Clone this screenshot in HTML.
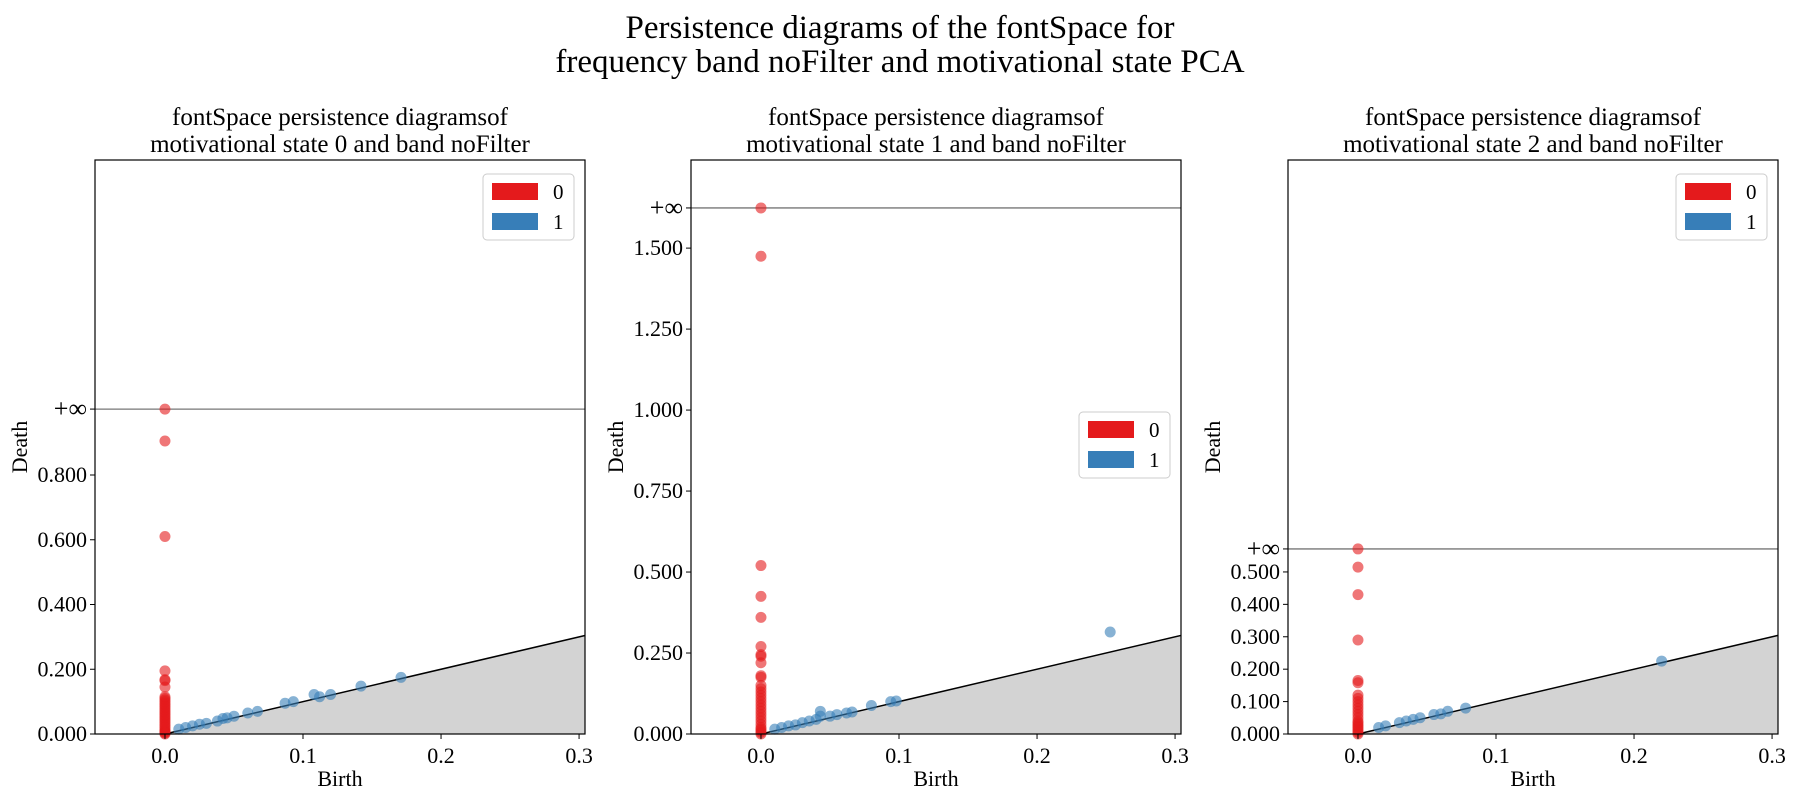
<!DOCTYPE html>
<html><head><meta charset="utf-8"><style>
body{margin:0;background:#fff;width:1800px;height:800px;overflow:hidden}
svg{font-family:"Liberation Serif",serif}
</style></head><body>
<svg id="fig" width="1800" height="800" viewBox="0 0 1800 800">
<text x="900" y="38" font-size="33" text-anchor="middle">Persistence diagrams of the fontSpace for</text>
<text x="900" y="72" font-size="33" text-anchor="middle">frequency band noFilter and motivational state PCA</text>
</svg>
<script>
// Panel 0 data
const p0Red = [1.0036, 0.905, 0.61, 0.195, 0.168, 0.165, 0.145, 0.115, 0.11, 0.105, 0.1, 0.095, 0.09, 0.085, 0.08, 0.075, 0.07, 0.065, 0.06, 0.055, 0.05, 0.045, 0.04, 0.035, 0.03, 0.025, 0.02, 0.015, 0.01, 0.008, 0.005, 0.003, 0.0];
const p0BlueBirth = [0.01, 0.015, 0.02, 0.025, 0.03, 0.038, 0.042, 0.045, 0.05, 0.06, 0.067, 0.087, 0.093, 0.108, 0.112, 0.12, 0.142, 0.171];
const p0BlueDeath = [0.015, 0.02, 0.025, 0.03, 0.033, 0.04, 0.048, 0.05, 0.055, 0.065, 0.07, 0.095, 0.1, 0.122, 0.115, 0.122, 0.148, 0.175];
const p0YTicks = [0, 0.2, 0.4, 0.6, 0.8];
const p0YTickLabels = ["0.000", "0.200", "0.400", "0.600", "0.800"];
// Panel 1 data
const p1Red = [1.624, 1.475, 0.52, 0.425, 0.36, 0.27, 0.245, 0.24, 0.22, 0.18, 0.175, 0.15, 0.14, 0.13, 0.12, 0.11, 0.1, 0.09, 0.08, 0.07, 0.06, 0.05, 0.04, 0.03, 0.02, 0.015, 0.01, 0.005, 0.0];
const p1BlueBirth = [0.01, 0.015, 0.02, 0.025, 0.03, 0.035, 0.04, 0.043, 0.043, 0.05, 0.055, 0.062, 0.066, 0.08, 0.094, 0.098, 0.253];
const p1BlueDeath = [0.015, 0.02, 0.025, 0.028, 0.035, 0.04, 0.045, 0.07, 0.055, 0.055, 0.06, 0.065, 0.068, 0.088, 0.1, 0.102, 0.315];
const p1YTicks = [0, 0.25, 0.5, 0.75, 1.0, 1.25, 1.5];
const p1YTickLabels = ["0.000", "0.250", "0.500", "0.750", "1.000", "1.250", "1.500"];
// Panel 2 data
const p2Red = [0.571, 0.515, 0.43, 0.29, 0.165, 0.158, 0.12, 0.11, 0.1, 0.09, 0.08, 0.07, 0.06, 0.05, 0.04, 0.035, 0.03, 0.025, 0.02, 0.015, 0.01, 0.005, 0.0];
const p2BlueBirth = [0.015, 0.02, 0.03, 0.035, 0.04, 0.045, 0.055, 0.06, 0.065, 0.078, 0.22];
const p2BlueDeath = [0.02, 0.025, 0.035, 0.04, 0.045, 0.05, 0.06, 0.062, 0.07, 0.08, 0.225];
const p2YTicks = [0, 0.1, 0.2, 0.3, 0.4, 0.5];
const p2YTickLabels = ["0.000", "0.100", "0.200", "0.300", "0.400", "0.500"];
const xTicks = [0, 0.1, 0.2, 0.3];
const xTickLabels = ["0.0", "0.1", "0.2", "0.3"];

const NS = "http://www.w3.org/2000/svg";
const fig = document.getElementById('fig');
function mk(tag, attrs, parent){const e=document.createElementNS(NS,tag);for(const k in attrs)e.setAttribute(k,attrs[k]);(parent||fig).appendChild(e);return e;}

const panels = [
 {L:95,R:585,T:160,B:734,ymax:1.773,inf:1.0036,red:p0Red,bb:p0BlueBirth,bd:p0BlueDeath,yt:p0YTicks,ytl:p0YTickLabels,leg:[483,174],state:0},
 {L:691,R:1181,T:160,B:734,ymax:1.772,inf:1.624,red:p1Red,bb:p1BlueBirth,bd:p1BlueDeath,yt:p1YTicks,ytl:p1YTickLabels,leg:[1079,412],state:1},
 {L:1288,R:1778,T:160,B:734,ymax:1.771,inf:0.571,red:p2Red,bb:p2BlueBirth,bd:p2BlueDeath,yt:p2YTicks,ytl:p2YTickLabels,leg:[1676,174],state:2}
];
const xmin=-0.0507, xmax=0.3043;
panels.forEach((p,i)=>{
  const g=mk('g',{});
  
  
  const X=v=>p.L+(v-xmin)/(xmax-xmin)*(p.R-p.L);
  const Y=v=>p.B-v/p.ymax*(p.B-p.T);
  const cx=(p.L+p.R)/2;
  let t=mk('text',{x:cx,y:125,'font-size':25,'text-anchor':'middle'},g);t.textContent='fontSpace persistence diagramsof';
  
  t=mk('text',{x:cx,y:152,'font-size':25,'text-anchor':'middle'},g);t.textContent='motivational state '+p.state+' and band noFilter';
  
  const x0=Math.max(0,xmin), x1=xmax;
  const poly=mk('polygon',{points:`${X(x0)},${Y(0)} ${X(x1)},${Y(0)} ${X(x1)},${Y(x1)}`,fill:'#d3d3d3'},g);
  
  const dl=mk('line',{x1:X(x0),y1:Y(x0),x2:X(x1),y2:Y(x1),stroke:'#000','stroke-width':1.5},g);
  
  const il=mk('line',{x1:p.L,x2:p.R,y1:Y(p.inf),y2:Y(p.inf),stroke:'#777','stroke-width':1.3},g);
  
  p.red.forEach(d=>{const c=mk('circle',{cx:X(0),cy:Y(d),r:5.5,fill:'#e41a1c','fill-opacity':0.6},g);
    });
  p.bb.forEach((b,j)=>{const c=mk('circle',{cx:X(b),cy:Y(p.bd[j]),r:5.5,fill:'#377eb8','fill-opacity':0.6},g);
    });
  const fr=mk('rect',{x:p.L,y:p.T,width:p.R-p.L,height:p.B-p.T,fill:'none',stroke:'#000','stroke-width':1.2},g);
  
  xTicks.forEach((v,j)=>{mk('line',{x1:X(v),x2:X(v),y1:p.B,y2:p.B+5,stroke:'#000'},g);
    const tt=mk('text',{x:X(v),y:p.B+29,'font-size':22,'text-anchor':'middle'},g);tt.textContent=xTickLabels[j];
    });
  p.yt.forEach((v,j)=>{mk('line',{x1:p.L-5,x2:p.L,y1:Y(v),y2:Y(v),stroke:'#000'},g);
    const tt=mk('text',{x:p.L-8,y:Y(v)+7,'font-size':22,'text-anchor':'end'},g);tt.textContent=p.ytl[j];
    });
  mk('line',{x1:p.L-5,x2:p.L,y1:Y(p.inf),y2:Y(p.inf),stroke:'#000'},g);
  const it=mk('text',{x:p.L-8,y:Y(p.inf)+8,'font-size':26,'text-anchor':'end'},g);it.textContent='+∞';
  
  const xl=mk('text',{x:cx,y:786,'font-size':22,'text-anchor':'middle'},g);xl.textContent='Birth';
  
  const yl=mk('text',{x:0,y:0,'font-size':22,'text-anchor':'middle',transform:`translate(${p.L-68},${(p.T+p.B)/2}) rotate(-90)`},g);yl.textContent='Death';
  
  const lg=mk('g',{},g);
  
  const [lx,ly]=p.leg;
  mk('rect',{x:lx,y:ly,width:91,height:66,rx:4,fill:'#fff','fill-opacity':0.85,stroke:'#ccc'},lg);
  [['#e41a1c','0'],['#377eb8','1']].forEach(([col,lab],k)=>{
    const r=mk('rect',{x:lx+9,y:ly+9+k*30,width:46,height:17,fill:col},lg);
    
    const tx=mk('text',{x:lx+70,y:ly+25+k*30,'font-size':21},lg);tx.textContent=lab;
    
  });
});
</script>
</body></html>
